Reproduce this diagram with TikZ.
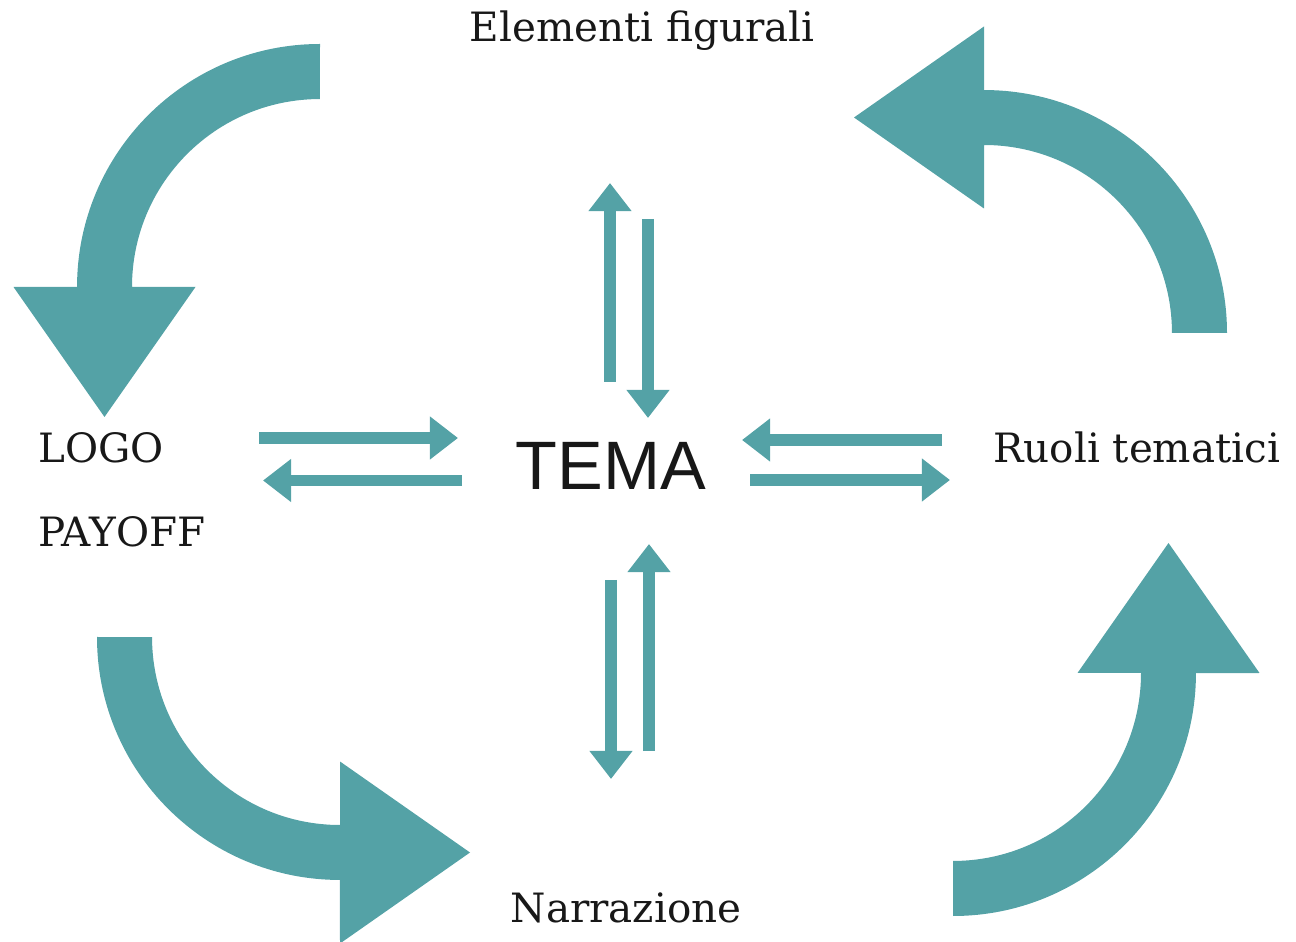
\documentclass[tikz,border=0pt]{standalone}
\usepackage{fontspec}
\setmainfont{DejaVu Serif}
\newfontfamily\temafont{Liberation Sans}
\usetikzlibrary{arrows.meta}
\definecolor{tealarr}{RGB}{84,162,166}
\definecolor{inkgray}{RGB}{24,24,24}
\tikzset{
  thinarr/.style={-{Triangle[length=16pt, width=23.5pt]}, tealarr, line width=6.6pt},
  lbl/.style={font=\fontsize{23}{27}\selectfont, text=inkgray, inner sep=0pt},
  temalbl/.style={font=\temafont\fontsize{39}{42}\selectfont, text=inkgray, inner sep=0pt},
  bigbend/.pic={
    \fill[tealarr] (243,0) arc[start angle=0, end angle=90, radius=4.86cm]
      -- (0,306.5) -- (-130,215.5) -- (0,124.5) -- (0,188)
      arc[start angle=90, end angle=0, radius=3.76cm] -- cycle;
  },
}

\begin{document}
\begin{tikzpicture}[x=0.02cm, y=0.02cm]
  \useasboundingbox (0,0) rectangle (1296,941);

  % labels
  \node[lbl, anchor=base] (fig) at (642,899) {Elementi figurali};
  \node[lbl, anchor=base west] (logo) at (38,478) {LOGO};
  \node[lbl, anchor=base west] (payoff) at (38,394) {PAYOFF};
  \node[lbl, anchor=base west] (ruoli) at (993,478) {Ruoli tematici};
  \node[lbl, anchor=base] (narr) at (626,19) {Narrazione};
  \node[temalbl, anchor=base] (tema) at (611,451) {TEMA};

  % big curved arrows round the cycle
  \pic[rotate=90] at (320,654) {bigbend};
  \pic at (984,608) {bigbend};
  \pic[rotate=180] at (340,304) {bigbend};
  \pic[rotate=270] at (953,268) {bigbend};

  % ends of the thin arrows
  \coordinate (w1) at (259,503);  \coordinate (w2) at (458,503);
  \coordinate (w3) at (462,460.5);\coordinate (w4) at (263,460.5);
  \coordinate (e1) at (942,501);  \coordinate (e2) at (742,501);
  \coordinate (e3) at (750,461);  \coordinate (e4) at (950,461);
  \coordinate (n1) at (610,559);  \coordinate (n2) at (610,758);
  \coordinate (n3) at (648,722);  \coordinate (n4) at (648,523);
  \coordinate (s1) at (611,361);  \coordinate (s2) at (611,162);
  \coordinate (s3) at (649,190);  \coordinate (s4) at (649,397);

  \draw[thinarr] (w1) -- (w2);
  \draw[thinarr] (w3) -- (w4);
  \draw[thinarr] (e1) -- (e2);
  \draw[thinarr] (e3) -- (e4);
  \draw[thinarr] (n1) -- (n2);
  \draw[thinarr] (n3) -- (n4);
  \draw[thinarr] (s1) -- (s2);
  \draw[thinarr] (s3) -- (s4);
\end{tikzpicture}
\end{document}
